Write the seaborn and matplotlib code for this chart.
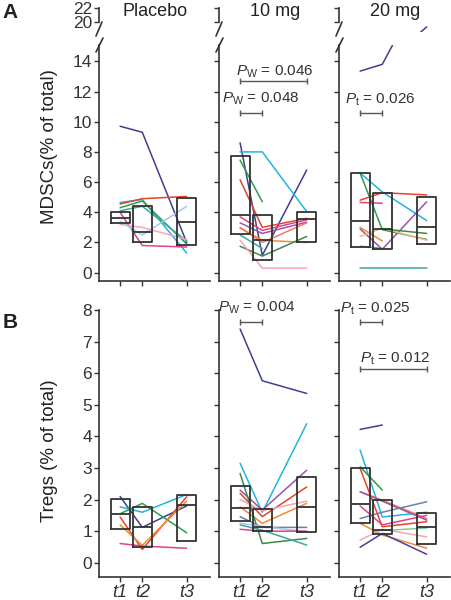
import numpy as np
import pandas as pd
import matplotlib
matplotlib.use('Agg')
import matplotlib.pyplot as plt
from matplotlib.lines import Line2D
import seaborn as sns

nan = np.nan

# time points (t3 sits further right)
t_pos = [1, 2, 4]
t_labels = ['t1', 't2', 't3']
groups = ['Placebo', '10 mg', '20 mg']

colors = {
    'navy': '#3f3f92', 'cyan': '#22b4e0', 'green': '#2f9c4c', 'teal': '#3aa99c',
    'red': '#e6432b', 'orange': '#f08c2e', 'magenta': '#e3408c', 'pink': '#f4a5b8',
    'lightblue': '#a4c8ea', 'purple': '#9a55a6', 'darkgreen': '#3c8a4a',
    'salmon': '#f07a66', 'peach': '#f6b48a', 'slate': '#6b80aa', 'lightgreen': '#8cc9a0',
    'indigo': '#4b3f9c',
}

# MDSCs (% of total) per patient at t1, t2, t3
mdsc_placebo = [
    ('navy', [9.7, 9.3, 2.0]),
    ('cyan', [4.65, 4.85, 1.3]),
    ('green', [4.3, 4.75, 1.9]),
    ('teal', [4.1, 4.4, 2.1]),
    ('red', [4.55, 4.9, 5.05]),
    ('magenta', [4.0, 1.8, 1.7]),
    ('pink', [3.2, 3.0, 2.2]),
    ('lightblue', [3.4, 2.5, 4.4]),
]
mdsc_10 = [
    ('navy', [8.6, 1.15, 6.8]),
    ('cyan', [8.0, 8.0, 4.05]),
    ('green', [7.45, 4.7, nan]),
    ('red', [6.15, 3.0, 3.6]),
    ('magenta', [3.7, 2.8, 3.5]),
    ('purple', [3.3, 2.6, 3.35]),
    ('orange', [2.95, 2.15, 2.0]),
    ('darkgreen', [1.75, 1.1, 2.4]),
    ('teal', [2.5, 1.6, nan]),
    ('pink', [2.15, 0.3, 0.3]),
    ('salmon', [3.0, 2.0, 3.3]),
]
mdsc_20 = [
    ('navy', [13.35, 13.8, 19.3]),
    ('cyan', [6.6, 5.35, 3.45]),
    ('green', [6.6, 2.85, 2.2]),
    ('red', [4.8, 5.3, 5.15]),
    ('magenta', [4.65, 4.6, nan]),
    ('purple', [2.9, 1.55, 4.7]),
    ('orange', [3.0, 2.1, nan]),
    ('peach', [2.4, 2.95, 2.15]),
    ('darkgreen', [nan, 2.9, 2.6]),
    ('slate', [1.75, 1.6, nan]),
    ('teal', [0.3, 0.3, 0.3]),
]
# box stats (q1, median, q3) at t1, t2, t3
mdsc_placebo_box = [(3.3, 3.65, 4.0), (2.0, 2.7, 4.4), (1.85, 3.35, 4.95)]
mdsc_10_box = [(2.55, 3.8, 7.75), (0.85, 2.15, 3.8), (2.0, 3.55, 4.05)]
mdsc_20_box = [(1.72, 3.45, 6.62), (1.55, 2.87, 5.3), (1.9, 3.0, 5.03)]

# Tregs (% of total)
treg_placebo = [
    ('navy', [2.1, 1.12, 1.8]),
    ('cyan', [1.77, 1.6, 2.16]),
    ('green', [1.55, 1.88, 0.95]),
    ('red', [1.45, 0.42, 2.09]),
    ('orange', [1.2, 0.55, 1.95]),
    ('magenta', [0.61, 0.53, 0.46]),
]
treg_10 = [
    ('navy', [7.4, 5.76, 5.36]),
    ('cyan', [3.15, 1.6, 4.4]),
    ('purple', [2.3, 1.67, 2.93]),
    ('red', [2.2, 1.46, 2.4]),
    ('pink', [2.0, 1.65, 1.95]),
    ('orange', [1.77, 1.25, 1.88]),
    ('darkgreen', [2.83, 0.61, 0.77]),
    ('teal', [1.2, 1.03, 0.56]),
    ('slate', [1.46, 1.12, 1.12]),
    ('lightblue', [1.25, 1.15, 0.98]),
    ('magenta', [1.06, 1.0, 1.0]),
]
treg_20 = [
    ('navy', [4.22, 4.36, nan]),
    ('cyan', [3.57, 1.45, 1.6]),
    ('green', [3.04, 2.3, nan]),
    ('red', [2.99, 1.14, 1.3]),
    ('salmon', [2.25, 1.98, 1.4]),
    ('purple', [2.25, 1.95, 1.35]),
    ('magenta', [1.8, 1.2, 1.5]),
    ('orange', [1.25, 0.88, 0.46]),
    ('indigo', [0.49, 0.93, 0.27]),
    ('pink', [0.72, 1.06, 0.82]),
    ('slate', [1.4, 1.6, 1.93]),
    ('lightgreen', [nan, 1.02, 1.1]),
]
treg_placebo_box = [(1.06, 1.53, 2.01), (0.49, 1.12, 1.77), (0.7, 1.83, 2.14)]
treg_10_box = [(1.33, 1.72, 2.43), (1.01, 1.14, 1.69), (0.96, 1.77, 2.7)]
treg_20_box = [(1.27, 1.85, 2.99), (0.91, 1.03, 2.0), (0.59, 1.12, 1.56)]

# significance brackets: (x from, x to, bracket y, text x, text y, label)
mdsc_pvals = [[],
              [(1, 4, 12.7, 0.82, 13.3, r'$P_{\rm W}$ = 0.046'),
               (1, 2, 10.55, 0.19, 11.55, r'$P_{\rm W}$ = 0.048')],
              [(1, 2, 10.55, 0.32, 11.43, r'$P_{\rm t}$ = 0.026')]]
treg_pvals = [[],
              [(1, 2, 7.63, 0.0, 8.08, r'$P_{\rm W}$ = 0.004')],
              [(1, 2, 7.63, 0.1, 8.05, r'$P_{\rm t}$ = 0.025'),
               (1, 4, 6.12, 1.0, 6.47, r'$P_{\rm t}$ = 0.012')]]

sns.set_style('ticks')
plt.rcParams['font.family'] = ['Liberation Sans', 'DejaVu Sans']
plt.rcParams['mathtext.fontset'] = 'custom'
plt.rcParams['mathtext.rm'] = 'Liberation Sans'
plt.rcParams['mathtext.it'] = 'Liberation Sans:italic'
plt.rcParams['text.color'] = '#222222'
plt.rcParams['axes.edgecolor'] = '#333333'
plt.rcParams['xtick.color'] = '#333333'
plt.rcParams['ytick.color'] = '#333333'

W, H = 451, 600
fig = plt.figure(figsize=(W / 100, H / 100), dpi=100)


def px_axes(x0, y0, x1, y1):
    return fig.add_axes([x0 / W, 1 - y1 / H, (x1 - x0) / W, (y1 - y0) / H])


def draw_lines(ax, series):
    rows = []
    pal = {}
    for i, (c, vals) in enumerate(series):
        pal[f'p{i}'] = colors[c]
        for x, v in zip(t_pos, vals):
            if not np.isnan(v):
                rows.append({'t': x, 'val': v, 'pid': f'p{i}'})
    df = pd.DataFrame(rows)
    sns.lineplot(data=df, x='t', y='val', hue='pid', palette=pal, estimator=None,
                 legend=False, lw=1.1, ax=ax, zorder=2)


def draw_boxes(ax, box):
    stats = [dict(q1=a, med=m, q3=b, whislo=a, whishi=b, fliers=[]) for a, m, b in box]
    ax.bxp(stats, positions=t_pos, widths=0.86, showcaps=False, showfliers=False,
           manage_ticks=False,
           boxprops=dict(color='#333333', lw=1.3, zorder=3),
           medianprops=dict(color='#333333', lw=1.3, zorder=3),
           whiskerprops=dict(lw=0))


def draw_pvals(ax, pv):
    for x1, x2, yb, xt, yt, lab in pv:
        ax.plot([x1, x2], [yb, yb], color='#555555', lw=1.0, marker='|', ms=5,
                mew=1.0, clip_on=False, zorder=4)
        ax.text(xt, yt, lab, fontsize=11, va='center', ha='left', color='#333333',
                clip_on=False)


def style(ax, first, ylim, yticks, xlabels):
    ax.set_xlim(0.05, 5.05)
    ax.set_ylim(*ylim)
    ax.set_yticks(yticks)
    ax.set_xticks(t_pos)
    ax.set_xlabel('')
    ax.set_ylabel('')
    if xlabels:
        ax.set_xticklabels(t_labels, fontsize=13, style='italic')
    else:
        ax.set_xticklabels([])
    if not first:
        ax.set_yticklabels([])
    else:
        ax.set_yticklabels([str(v) for v in yticks], fontsize=12.5)
    ax.tick_params(length=3.5, width=1.0, pad=1.5)
    sns.despine(ax=ax)
    for s in ['left', 'bottom']:
        ax.spines[s].set_linewidth(1.2)


lefts = [99, 219, 339]
mdsc = [(mdsc_placebo, mdsc_placebo_box), (mdsc_10, mdsc_10_box), (mdsc_20, mdsc_20_box)]
treg = [(treg_placebo, treg_placebo_box), (treg_10, treg_10_box), (treg_20, treg_20_box)]

for k, L in enumerate(lefts):
    # top row, main part
    ax = px_axes(L, 45, L + 111, 281)
    draw_lines(ax, mdsc[k][0])
    draw_boxes(ax, mdsc[k][1])
    draw_pvals(ax, mdsc_pvals[k])
    style(ax, k == 0, (-0.55, 15.08), list(range(0, 15, 2)), False)

    # top row, part above the axis break
    up = px_axes(L, 5, L + 111, 32)
    draw_lines(up, mdsc[k][0])
    up.set_xlim(0.05, 5.05)
    up.set_ylim(18.57, 22.43)
    up.set_yticks([20, 22])
    up.set_xticks([])
    up.set_xlabel('')
    up.set_ylabel('')
    sns.despine(ax=up, bottom=True)
    up.spines['left'].set_bounds(20, 22)
    up.spines['left'].set_linewidth(1.2)
    up.tick_params(length=3.5, width=1.0, pad=1.5)
    if k == 0:
        up.set_yticklabels(['20', '22'], fontsize=12.5)
    else:
        up.set_yticklabels([])
    # break slashes
    for (xa, ya, xb, yb) in [(L + 3, 22, L - 3, 36), (L + 4, 38, L - 3, 52)]:
        fig.add_artist(Line2D([xa / W, xb / W], [1 - ya / H, 1 - yb / H],
                              color='#333333', lw=1.2))

    fig.text((L + 56) / W, 1 - 12 / H, groups[k], fontsize=13, ha='center', va='center')

    # bottom row
    bx = px_axes(L, 310, L + 111, 577)
    draw_lines(bx, treg[k][0])
    draw_boxes(bx, treg[k][1])
    draw_pvals(bx, treg_pvals[k])
    style(bx, k == 0, (-0.45, 8.0), list(range(0, 9)), True)

fig.text(50 / W, 1 - 147 / H, 'MDSCs(% of total)', rotation=90, fontsize=13.5,
         ha='center', va='center')
fig.text(50 / W, 1 - 451 / H, 'Tregs (% of total)', rotation=90, fontsize=13.5,
         ha='center', va='center')
fig.text(10 / W, 1 - 13 / H, 'A', fontsize=15, fontweight='bold', ha='center', va='center')
fig.text(10 / W, 1 - 323 / H, 'B', fontsize=15, fontweight='bold', ha='center', va='center')

fig.savefig('out.png', dpi=100)
